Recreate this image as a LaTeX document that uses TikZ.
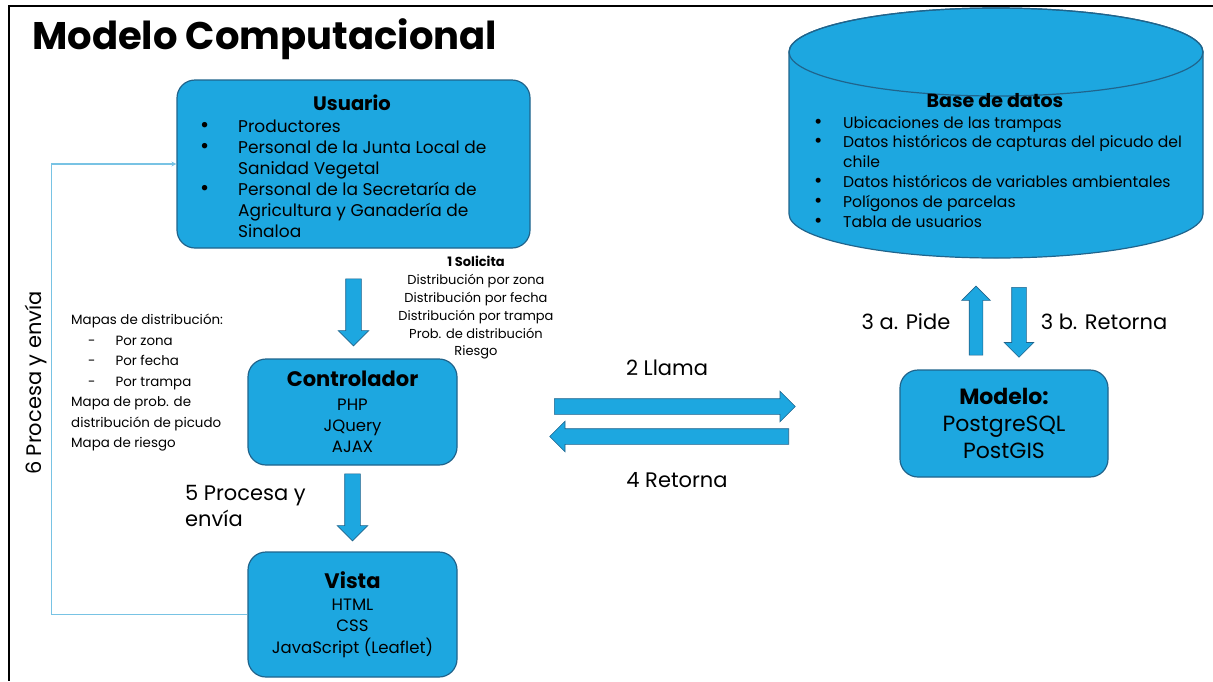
\documentclass[tikz,border=0pt]{standalone}
\usepackage{fontspec}
\setmainfont{Poppins}
\usepackage{xcolor}
\usepackage{tikz}
\usetikzlibrary{arrows.meta, positioning, shapes.arrows}

\definecolor{boxblue}{RGB}{29,167,224}
\definecolor{boxline}{RGB}{32,100,140}
\definecolor{backblue}{RGB}{120,195,228}

\newcommand{\bigdot}{\scalebox{1.3}{\textbullet}}

\tikzset{
    mvcbox/.style={draw=boxline, fill=boxblue, line width=1.2pt, rounded corners=18pt, align=center, inner sep=0pt},
    blockarr/.style={single arrow, draw=boxline, fill=boxblue, line width=0.6pt, inner xsep=0pt, inner ysep=7.5pt,
        single arrow head extend=7.5pt, single arrow tip angle=90},
    lbl/.style={inner sep=0pt, font=\fontsize{21}{26}\selectfont},
    smalltxt/.style={inner sep=0pt, font=\fontsize{13}{17.8}\selectfont},
    backline/.style={draw=backblue, line width=1.3pt}
}

\begin{document}
\begin{tikzpicture}[x=1pt, y=-1pt]
    \useasboundingbox (0,0) rectangle (1213,681);
    \fill[white] (0,0) rectangle (1213,681);
    % frame and title
    \draw[line width=2pt] (1213,6) -- (9,6) -- (9,681);
    \node[anchor=base west, inner sep=0pt, font=\fontsize{38.5}{42}\selectfont\bfseries] (title) at (32,49) {Modelo Computacional};

    % Usuario
    \node[mvcbox, minimum width=353pt, minimum height=168pt] (usuario) at (353.5,164) {};
    \node[inner sep=0pt, font=\fontsize{19.5}{22}\selectfont\bfseries] (usuario-h) at (352,103) {Usuario};
    \node[anchor=north west, inner sep=0pt, font=\fontsize{17}{21}\selectfont] (usuario-l) at (200,118) {%
        \begin{tabular}{@{}p{38pt}@{}l@{}}
            \bigdot & Productores\\
            \bigdot & Personal de la Junta Local de\\
                    & Sanidad Vegetal\\
            \bigdot & Personal de la Secretaría de\\
                    & Agricultura y Ganadería de\\
                    & Sinaloa
        \end{tabular}};

    % Controlador and Vista
    \node[mvcbox, minimum width=209pt, minimum height=106pt, font=\fontsize{16.5}{21}\selectfont] (ctrl) at (352.5,412)
        {{\fontsize{21}{24}\selectfont\bfseries Controlador}\\[3pt]PHP\\JQuery\\AJAX};
    \node[mvcbox, minimum width=209pt, minimum height=125pt, font=\fontsize{16.5}{21.5}\selectfont] (vista) at (352.5,614.5)
        {{\fontsize{21}{24}\selectfont\bfseries Vista}\\HTML\\CSS\\JavaScript (Leaflet)};

    % Modelo
    \node[mvcbox, minimum width=208pt, minimum height=107pt, font=\fontsize{22}{27}\selectfont] (modelo) at (1004,423.5)
        {{\bfseries Modelo:}\\PostgreSQL\\PostGIS};

    % Base de datos (cylinder)
    \filldraw[draw=boxline, fill=boxblue, line width=1.2pt] (789,52) -- (789,214)
        arc[start angle=180, end angle=360, x radius=207pt, y radius=44pt] -- (1203,52)
        arc[start angle=0, end angle=180, x radius=207pt, y radius=44pt] -- cycle;
    \draw[boxline, line width=1.2pt] (996,52) ellipse[x radius=207pt, y radius=44pt];
    \node[inner sep=0pt, font=\fontsize{19}{22}\selectfont\bfseries] (bd-h) at (995,101) {Base de datos};
    \node[anchor=north west, inner sep=0pt, font=\fontsize{15.6}{19.8}\selectfont] (bd-l) at (814,114) {%
        \begin{tabular}{@{}p{29pt}@{}l@{}}
            \bigdot & Ubicaciones de las trampas\\
            \bigdot & Datos históricos de capturas del picudo del\\
                    & chile\\
            \bigdot & Datos históricos de variables ambientales\\
            \bigdot & Polígonos de parcelas\\
            \bigdot & Tabla de usuarios
        \end{tabular}};

    % block arrows
    \node[blockarr, rotate=-90, minimum height=67pt, anchor=tail] (a1) at ([yshift=-30pt]usuario.south) {};
    \node[blockarr, rotate=-90, minimum height=67pt, anchor=tail] (a5) at ([yshift=-8pt]ctrl.south) {};
    \node[blockarr, minimum height=241pt, anchor=tail] (a2) at (554,406.5) {};
    \node[blockarr, rotate=180, minimum height=239pt, anchor=tail] (a4) at (789,436.5) {};
    \node[blockarr, rotate=90, minimum height=69pt, anchor=tail, inner ysep=6.5pt] (a3a) at ([xshift=-28pt, yshift=14pt]modelo.north) {};
    \node[blockarr, rotate=-90, minimum height=70pt, anchor=tail, inner ysep=7pt] (a3b) at (1019,287) {};

    % labels
    \node[smalltxt, align=center] (solicita) at (476,308)
        {\textbf{1 Solicita}\\Distribución por zona\\Distribución por fecha\\Distribución por trampa\\Prob. de distribución\\Riesgo};
    \node[lbl] (llama) at (667,368) {2 Llama};
    \node[lbl] (retorna) at (677,480) {4 Retorna};
    \node[lbl] (pide) at (906,322) {3 a. Pide};
    \node[lbl] (retornab) at (1104,322) {3 b. Retorna};
    \node[lbl, anchor=west, align=left] (procesa) at (185,506) {5 Procesa y\\envía};
    \node[lbl, rotate=90] (envia) at (36,383) {6 Procesa y envía};
    \node[anchor=north west, inner sep=0pt, align=left, font=\fontsize{13.4}{20.5}\selectfont] (mapas) at (71,314)
        {Mapas de distribución:\\
        \hspace{17pt}-\hspace{20pt}Por zona\\
        \hspace{17pt}-\hspace{20pt}Por fecha\\
        \hspace{17pt}-\hspace{20pt}Por trampa\\
        Mapa de prob. de\\
        distribución de picudo\\
        Mapa de riesgo};

    % Vista back to Usuario
    \draw[backline, -{Stealth[length=5pt, width=5pt]}] (vista.west) -- ++(-196,0) |- (usuario.west);
\end{tikzpicture}
\end{document}
